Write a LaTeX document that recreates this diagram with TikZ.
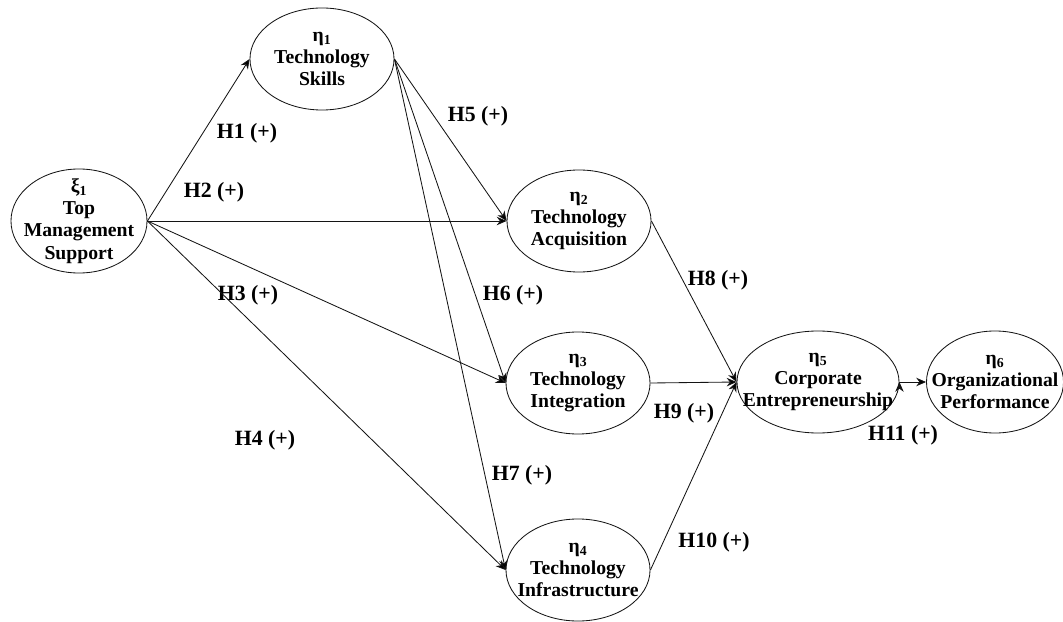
\documentclass[tikz,border=0pt]{standalone}
\usepackage{fontspec}
\setmainfont{Liberation Serif}
\usepackage{tikz}
\usetikzlibrary{arrows.meta}
\usetikzlibrary{shapes.geometric}
\definecolor{line_black}{RGB}{20,20,20}

\begin{document}
\begin{tikzpicture}[->,line width=0.6pt,>={Stealth[length=7pt,width=6pt]},x=0.025cm,y=-0.025cm,
    every label/.style={align=center,text=black,font=\fontsize{14}{15.8}\selectfont\bfseries}]
    \tikzstyle{construct}=[draw=line_black, ellipse, inner sep=0pt, minimum width=3.6cm, minimum height=2.55cm, fill=none]
    \tikzstyle{hyp}=[text=black, font=\fontsize{15.5}{17}\selectfont\bfseries]
    \useasboundingbox (0,0) rectangle (1063,622);
    \node[construct,minimum width=3.4cm,minimum height=2.6cm,
      label={center:ξ\textsubscript{1}\\Top\\Management\\Support}] (TMS) at (79,221) {};
    \node[construct,label={center:η\textsubscript{1}\\Technology\\Skills}] (TS) at (322,59) {};
    \node[construct,label={center:η\textsubscript{2}\\Technology\\Acquisition}] (TA) at (579,221) {};
    \node[construct,label={center:η\textsubscript{3}\\Technology\\Integration}] (TI) at (578,383) {};
    \node[construct,label={center:η\textsubscript{4}\\Technology\\Infrastructure}] (TF) at (578,570) {};
    \node[construct,minimum width=4.05cm,
      label={center:η\textsubscript{5}\\Corporate\\Entrepreneurship}] (CE) at (818,382) {};
    \node[construct,minimum width=3.425cm,
      label={center:η\textsubscript{6}\\Organizational\\Performance}] (OP) at (995,382) {};

    \node[hyp] (h1)  at (247,133) {H1 (+)};
    \node[hyp] (h2)  at (214,192) {H2 (+)};
    \node[hyp] (h3)  at (248,295) {H3 (+)};
    \node[hyp] (h4)  at (265,440) {H4 (+)};
    \node[hyp] (h5)  at (478,116) {H5 (+)};
    \node[hyp] (h6)  at (513,295) {H6 (+)};
    \node[hyp] (h7)  at (522,475) {H7 (+)};
    \node[hyp] (h8)  at (718,280) {H8 (+)};
    \node[hyp] (h9)  at (684,413) {H9 (+)};
    \node[hyp] (h10) at (714,542) {H10 (+)};
    \node[hyp] (h11) at (903,435) {H11 (+)};

    \path[draw=line_black]
     (TMS.east) edge (TS.west)
     (TMS.east) edge (TA.west)
     (TMS.east) edge (TI.west)
     (TMS.east) edge (TF.west)
     (TS.east) edge (TA.west)
     (TS.east) edge (TI.west)
     (TS.east) edge (TF.west)
     (TA.east) edge (CE.west)
     (TI.east) edge (CE.west)
     (TF.east) edge (CE.west)
     (CE.east) edge (OP.west);
\end{tikzpicture}
\end{document}
